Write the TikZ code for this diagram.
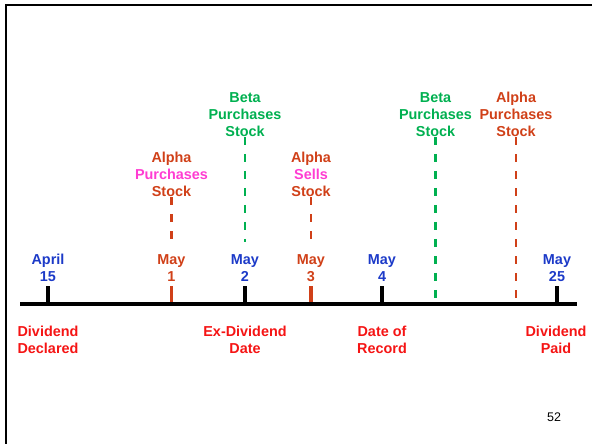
\documentclass[tikz,border=0pt]{standalone}
\usepackage{fontspec}
\setmainfont{Liberation Sans}
\usetikzlibrary{positioning}
\definecolor{dateblue}{RGB}{28,58,200}
\definecolor{eventred}{RGB}{245,20,20}
\definecolor{alpharust}{RGB}{208,64,24}
\definecolor{alphapink}{RGB}{255,60,210}
\definecolor{betagreen}{RGB}{0,176,80}
\tikzset{
lbl/.style={ % Sets the properties for every label
font=\bfseries\fontsize{14.4}{17.2}\selectfont,
align=center,
inner sep=0pt},
date/.style={lbl, text=dateblue}, % dates above the line
event/.style={lbl, text=eventred}, % milestones below the line
datetick/.style={line width=3.6pt, shorten >=4pt},
trade/.style={ % dashed line for a purchase or sale
line width=2.2pt,
dash pattern=on 8pt off 9pt}}

\begin{document}
\begin{tikzpicture}[x=1pt,y=-1pt]
\useasboundingbox (0,0) rectangle (592,444);
\draw[line width=2.6pt] (6,444) -- (6,5) -- (592,5);
\coordinate (axisL) at (20,304);
\coordinate (axisR) at (577,304);

% dates
\node[date] (apr15) at (48,268) {April\\15};
\node[date, text=alpharust] (may1) at (171.5,268) {May\\1};
\node[date] (may2) at (245,268) {May\\2};
\node[date, text=alpharust] (may3) at (311,268) {May\\3};
\node[date] (may4) at (382,268) {May\\4};
\node[date] (may25) at (557,268) {May\\25};

\draw[datetick] (apr15.south |- axisL) -- (apr15.south);
\draw[datetick, alpharust] (may1.south |- axisL) -- (may1.south);
\draw[datetick] (may2.south |- axisL) -- (may2.south);
\draw[datetick, alpharust] (may3.south |- axisL) -- (may3.south);
\draw[datetick] (may4.south |- axisL) -- (may4.south);
\draw[datetick] (may25.south |- axisL) -- (may25.south);
\draw[line width=4pt] (axisL) -- (axisR);

% milestones
\node[event] (declared) at (48,340) {Dividend\\Declared};
\node[event] (exdiv) at (245,340) {Ex-Dividend\\Date};
\node[event] (record) at (382,340) {Date of\\Record};
\node[event] (paid) at (556,340) {Dividend\\Paid};

% trades
\node[lbl, text=betagreen] (betabuy1) at (245,114.5) {Beta\\Purchases\\Stock};
\node[lbl, text=alpharust] (alphabuy1) at (171.5,174.5) {Alpha\\{\color{alphapink}Purchases}\\Stock};
\node[lbl, text=alpharust] (alphasell) at (311,174.5) {Alpha\\{\color{alphapink}Sells}\\Stock};
\node[lbl, text=betagreen] (betabuy2) at (435.5,114.5) {Beta\\Purchases\\Stock};
\node[lbl, text=alpharust] (alphabuy2) at (516,114.5) {Alpha\\Purchases\\Stock};

\draw[trade, betagreen, shorten >=12pt] (betabuy1.south) -- (may2.north);
\draw[trade, alpharust, shorten >=12pt] (alphabuy1.south) -- (may1.north);
\draw[trade, alpharust, shorten >=12pt] (alphasell.south) -- (may3.north);
\draw[trade, betagreen, shorten >=4pt] (betabuy2.south) -- (betabuy2.south |- axisL);
\draw[trade, alpharust, shorten >=4pt] (alphabuy2.south) -- (alphabuy2.south |- axisL);

\node[font=\fontsize{12.5}{15}\selectfont, inner sep=0pt] (pagenum) at (554,417.5) {52};
\end{tikzpicture}
\end{document}
